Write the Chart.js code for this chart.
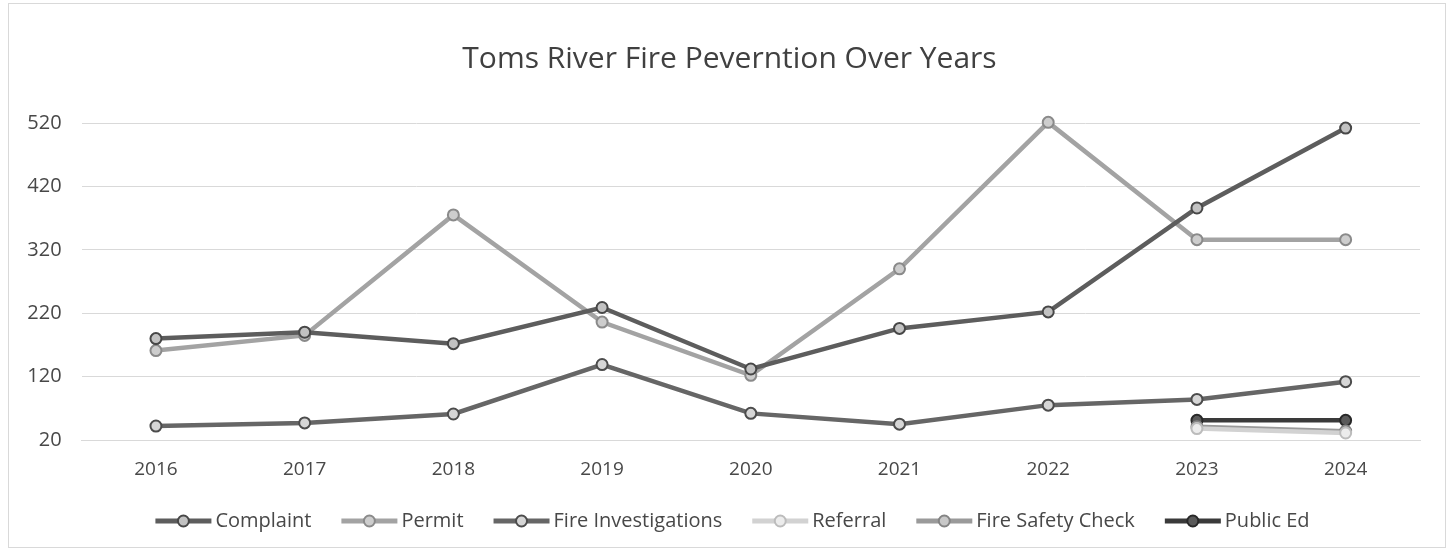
<!DOCTYPE html>
<html>
<head>
<meta charset="utf-8">
<script src="https://cdn.jsdelivr.net/npm/chart.js@4.4.1/dist/chart.umd.min.js"></script>
<style>
  html, body { margin: 0; padding: 0; background: #fff; }
  .chart-box {
    position: absolute; left: 8px; top: 3px;
    width: 1438px; height: 545px;
    border: 1px solid #d9d9d9;
    box-sizing: border-box;
  }
</style>
</head>
<body>
<div class="chart-box"><canvas id="myChart"></canvas></div>
<script>
// Values
const years = ['2016', '2017', '2018', '2019', '2020', '2021', '2022', '2023', '2024'];
const complaint = [180, 190, 172, 229, 132, 196, 222, 386, 512];
const permit = [161, 185, 375, 206, 122, 290, 521, 336, 336];
const fireInvestigations = [42, 47, 61, 139, 62, 45, 75, 84, 112];
const referral = [null, null, null, null, null, null, null, 38, 31];
const fireSafetyCheck = [null, null, null, null, null, null, null, 41, 34];
const publicEd = [null, null, null, null, null, null, null, 51, 51];
const yTicks = [20, 120, 220, 320, 420, 520];

const textColor = '#484848';
const font = "'Open Sans', sans-serif";

function series(label, data, line, border, fill) {
    return {
        label: label,
        data: data,
        borderColor: line,
        backgroundColor: line,
        borderWidth: 4.5,
        pointRadius: 5.5,
        pointHoverRadius: 5.5,
        pointBorderWidth: 2,
        pointBorderColor: border,
        pointBackgroundColor: fill,
        markerBorder: border,
        markerFill: fill,
        tension: 0,
        clip: 10
    };
}

// the title and legend sit a bit right of the plot centre in the original
const shiftBlocks = {
    id: 'shiftBlocks',
    afterLayout(chart) {
        if (chart.titleBlock) {
            chart.titleBlock.left += 15;
            chart.titleBlock.right += 15;
        }
        if (chart.legend) {
            chart.legend.left += 18;
            chart.legend.right += 18;
        }
    }
};

// legend entries look like a short line with a circle marker on it
const legendMarkers = {
    id: 'legendMarkers',
    afterDraw(chart) {
        const legend = chart.legend;
        if (!legend || !legend.legendHitBoxes) return;
        const c = chart.ctx;
        legend.legendHitBoxes.forEach((box, i) => {
            const ds = chart.data.datasets[i];
            const cy = box.top + box.height / 2;
            const cx = box.left + 28;
            c.save();
            c.fillStyle = '#fff';
            c.fillRect(box.left - 4, cy - 8, 62, 16);
            c.fillStyle = ds.borderColor;
            c.fillRect(box.left, cy - 2.5, 56, 5);
            c.beginPath();
            c.arc(cx, cy, 5.5, 0, Math.PI * 2);
            c.fillStyle = ds.markerFill;
            c.fill();
            c.lineWidth = 2;
            c.strokeStyle = ds.markerBorder;
            c.stroke();
            c.restore();
        });
    }
};

const ctx = document.getElementById('myChart').getContext('2d');

const myChart = new Chart(ctx, {
    type: 'line',
    data: {
        labels: years,
        datasets: [
            series('Complaint', complaint, '#5d5d5d', '#474747', '#c2c2c2'),
            series('Permit', permit, '#a3a3a3', '#8a8a8a', '#cdcdcd'),
            series('Fire Investigations', fireInvestigations, '#666666', '#4c4c4c', '#d6d6d6'),
            series('Referral', referral, '#d2d2d2', '#bcbcbc', '#ececec'),
            series('Fire Safety Check', fireSafetyCheck, '#9a9a9a', '#848484', '#c8c8c8'),
            series('Public Ed', publicEd, '#3a3a3a', '#282828', '#5a5a5a')
        ]
    },
    options: {
        responsive: true,
        maintainAspectRatio: false,
        animation: false,
        layout: { padding: { left: 0, right: 25, top: 8, bottom: 6 } },
        scales: {
            x: {
                offset: true,
                grid: { display: false, drawTicks: false },
                border: { display: true, color: '#d9d9d9', width: 1 },
                ticks: { color: textColor, font: { family: font, size: 19 }, padding: 18 },
                afterFit: (scale) => { scale.height = 41; }
            },
            y: {
                min: 20,
                max: 520,
                afterBuildTicks: (scale) => {
                    scale.ticks = yTicks.map(v => ({ value: v }));
                },
                grid: { color: '#d9d9d9', lineWidth: 1, drawTicks: false },
                border: { display: false },
                ticks: { color: textColor, font: { family: font, size: 20 }, padding: 20 },
                afterFit: (scale) => { scale.width = 72.6; }
            }
        },
        plugins: {
            title: {
                display: true,
                text: 'Toms River Fire Peverntion Over Years',
                color: '#404040',
                font: { family: font, size: 30, weight: 'normal' },
                padding: { top: 29, bottom: 46 }
            },
            legend: {
                position: 'bottom',
                labels: {
                    color: textColor,
                    font: { family: font, size: 20 },
                    boxWidth: 50,
                    boxHeight: 5,
                    padding: 30
                }
            },
            tooltip: { enabled: false }
        }
    },
    plugins: [shiftBlocks, legendMarkers]
});
</script>
</body>
</html>
